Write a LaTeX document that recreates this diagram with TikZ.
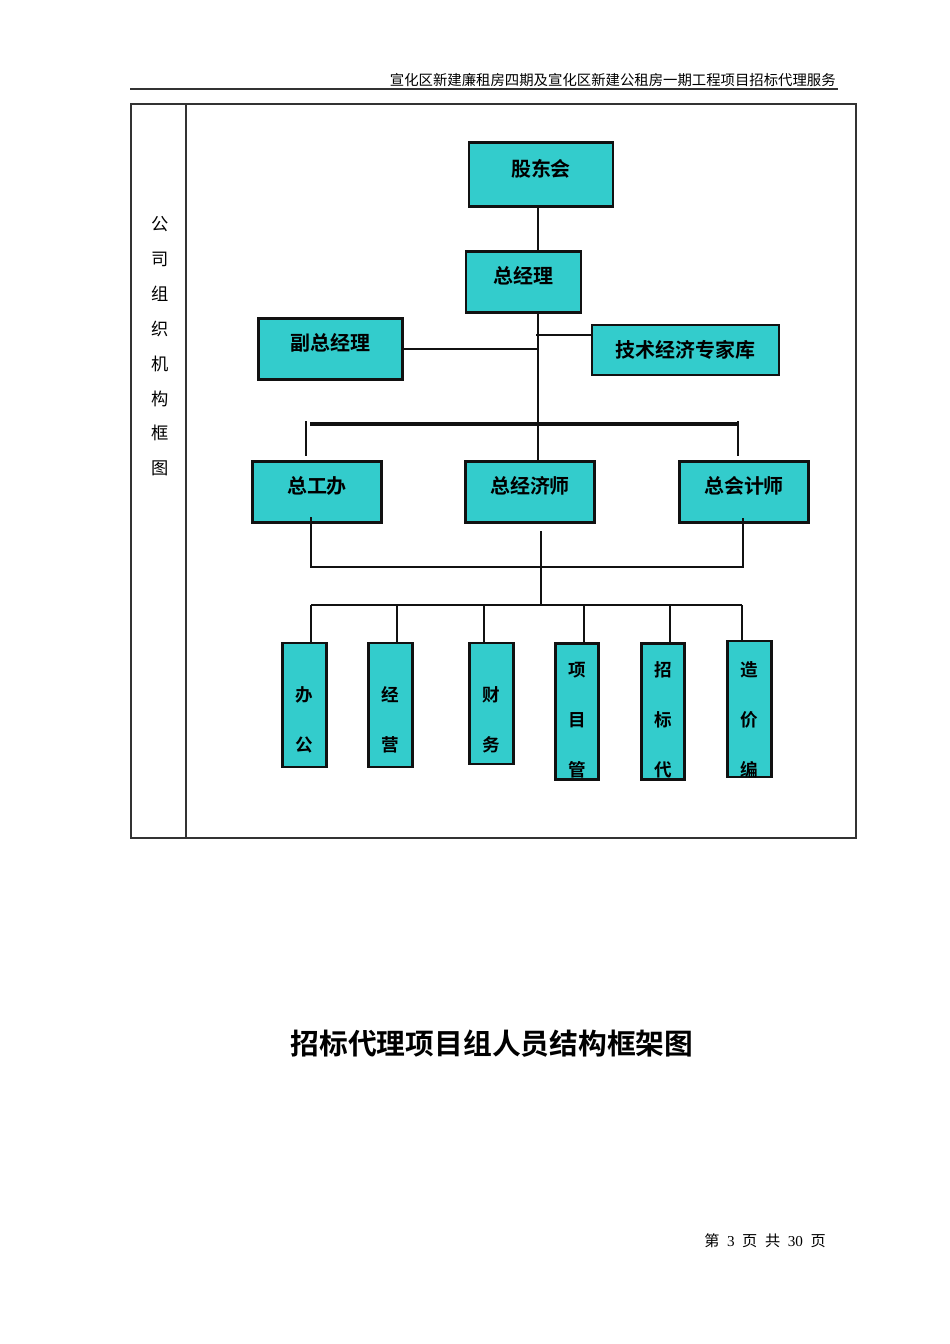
\documentclass[tikz,border=0pt]{standalone}
\usepackage{fontspec}
\setmainfont{Liberation Serif}
\newfontfamily\cjk{Noto Sans CJK SC}[BoldFont={Noto Sans CJK SC Bold}]
\usetikzlibrary{positioning}
\definecolor{cyanfill}{HTML}{33CCCC}
\definecolor{ink}{HTML}{111111}
\definecolor{rule}{HTML}{333333}
\tikzset{
  org/.style={draw=ink,line width=1.8pt,fill=cyanfill,inner sep=0pt,align=center,
    font=\cjk\bfseries\fontsize{12.5}{14}\selectfont},
  bigbox/.style={org,minimum width=28.2mm,minimum height=13.6mm,text height=3.9mm,text depth=3.2mm},
  slim/.style={org,minimum width=9.5mm},
  slimtext/.style={align=center,inner sep=0pt,font=\cjk\bfseries\fontsize{11}{31.2}\selectfont},
  link/.style={draw=ink,line width=1.3pt},
  sidetext/.style={align=center,inner sep=0pt,font=\cjk\fontsize{10.8}{21.8}\selectfont},
}

\begin{document}
\begin{tikzpicture}[x=0.22mm,y=-0.22mm]
\useasboundingbox (0,0) rectangle (950,1344);

% page header
\node[anchor=base east,inner sep=0pt,font=\cjk\fontsize{9}{12}\selectfont] (head) at (836,85)
  {宣化区新建廉租房四期及宣化区新建公租房一期工程项目招标代理服务};
\coordinate (headL) at (130,89);
\coordinate (headR) at (838,89);
\draw[draw=rule,line width=1.2pt] (headL) -- (headR);

% frame with side column
\coordinate (frameNW) at (131,104);
\coordinate (frameSE) at (856,838);
\coordinate (divider) at (186,0);
\draw[draw=rule,line width=0.8pt] (frameNW) rectangle (frameSE);
\draw[draw=rule,line width=0.8pt] (frameNW -| divider) -- (frameSE -| divider);
\node[sidetext] (side) at (160,346.5) {公\\司\\组\\织\\机\\构\\框\\图};

% top levels
\node[bigbox,minimum width=31.7mm,minimum height=13.9mm] (gdh) at (541,174.5) {股东会};
\node[bigbox,minimum width=25.3mm] (zjl) at (523.5,282) {总经理};
\node[bigbox,minimum width=31.5mm] (fzjl) at (330.5,349) {副总经理};
\node[bigbox,minimum width=41.1mm,minimum height=11mm,line width=1.5pt,text depth=0.6mm] (jsk) at (685.5,350) {技术经济专家库};

% middle level
\node[bigbox] (zgb) at (317,492) {总工办};
\node[bigbox] (zjs) at (530,492) {总经济师};
\node[bigbox] (zkj) at (744,492) {总会计师};

% departments
\node[slim,minimum height=27.3mm] (bg) at (304.5,705) {};
\node[slim,minimum height=27.3mm] (jy) at (390.5,705) {};
\node[slim,minimum height=26.6mm] (cw) at (491.5,703.5) {};
\node[slim,minimum height=30.1mm] (xm) at (577,711.5) {};
\node[slim,minimum height=30.1mm] (zb) at (663,711.5) {};
\node[slim,minimum height=29.9mm] (zj) at (749.5,709) {};
\node[slimtext] (bg-t) at (304.5,720) {办\\公};
\node[slimtext] (jy-t) at (390.5,720) {经\\营};
\node[slimtext] (cw-t) at (491.5,720) {财\\务};
\node[slimtext] (xm-t) at (577,720) {项\\目\\管};
\node[slimtext] (zb-t) at (663,720) {招\\标\\代};
\node[slimtext] (zj-t) at (749.5,720) {造\\价\\编};

% spine
\coordinate (spine) at (538,0);
\draw[link] (gdh.south -| spine) -- (zjl.north -| spine);
\draw[link] (zjl.south -| spine) -- (zjs.north -| spine);
\draw[link] (fzjl.east) -- (fzjl.east -| spine);
\draw[link] ([yshift=3.3mm]jsk.west) -- ([yshift=3.3mm,xshift=-0.4mm]jsk.west -| spine);

% bar over the middle level
\coordinate (barL) at (310,424);
\coordinate (barR) at (738,424);
\draw[link,line width=2pt] (barL) -- (barR);
\coordinate (tickL) at (306,421);
\coordinate (tickR) at (738,421);
\draw[link] (tickL) -- ++(0,35);
\draw[link] (tickR) -- ++(0,35);

% join below the middle level
\coordinate (uL) at (311,517);
\coordinate (uR) at (743,518);
\coordinate (ubar) at (0,567);
\draw[link] (uL) -- (uL |- ubar) -- (uR |- ubar) -- (uR);
\coordinate (mid) at (541,531);
\coordinate (dbar) at (0,605);
\draw[link] (mid) -- (mid |- dbar);

% bar over the departments
\draw[link] (311,605) coordinate (dL) -- (742,605) coordinate (dR);
\foreach \n/\x in {bg/311,jy/397,cw/484,xm/584,zb/670,zj/742}
  \draw[link] (\x,605) -- (\n.north -| \x,0);

% title
\node[inner sep=0pt,font=\cjk\bfseries\fontsize{18}{22}\selectfont] (title) at (492,1044)
  {招标代理项目组人员结构框架图};

% page footer
\node[inner sep=0pt,font=\fontsize{9.5}{12}\selectfont] (foot) at (765,1241)
  {{\cjk 第}\ \ 3\ \ {\cjk 页}\ \ {\cjk 共}\ \ 30\ \ {\cjk 页}};
\end{tikzpicture}
\end{document}
